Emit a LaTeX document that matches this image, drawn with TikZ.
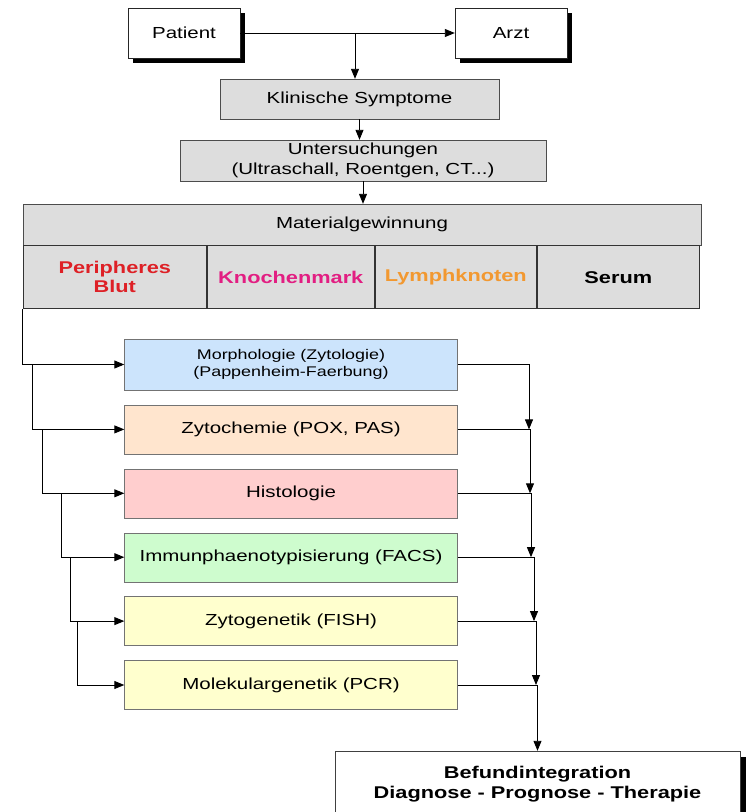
\documentclass[tikz,border=0pt]{standalone}
\usepackage{fontspec}
\setmainfont{Liberation Sans}[FakeStretch=1.28]
\usetikzlibrary{arrows.meta, positioning, shadows}

\definecolor{boxgray}{RGB}{221,221,221}
\definecolor{morphblue}{RGB}{204,228,252}
\definecolor{zytopeach}{RGB}{255,229,206}
\definecolor{histopink}{RGB}{255,206,206}
\definecolor{immungreen}{RGB}{206,252,206}
\definecolor{genyellow}{RGB}{255,255,206}
\definecolor{blutred}{RGB}{222,32,38}
\definecolor{markpink}{RGB}{226,30,130}
\definecolor{lymphorange}{RGB}{242,152,48}

\begin{document}
\begin{tikzpicture}[x=1pt, y=-1pt,
    font=\fontsize{16}{20}\selectfont,
    box/.style={rectangle, draw=black!85, fill=white, minimum width=112pt, minimum height=50pt, drop shadow={shadow xshift=5pt, shadow yshift=-5pt, fill=black, opacity=1}},
    graybox/.style={rectangle, draw=black!70, fill=boxgray, inner ysep=1pt, align=center},
    cell/.style={rectangle, draw=black!80, line width=1pt, fill=boxgray, minimum height=63pt, align=center, font=\fontsize{17}{19}\selectfont\bfseries},
    method/.style={rectangle, draw=black!55, minimum width=333pt, minimum height=49pt, align=center},
    result/.style={rectangle, draw=black!75, fill=white, minimum width=405pt, minimum height=66pt, align=center, font=\fontsize{17}{20}\selectfont\bfseries, drop shadow={shadow xshift=6pt, shadow yshift=-6pt, fill=black, opacity=1}},
    arrow/.style={-{Triangle[length=10pt, width=8pt]}, line width=0.9pt},
    node distance=14.5pt]

    \path[use as bounding box, clip] (0,0) rectangle (746,812);

    \node[box] (patient) at (184,33) {Patient};
    \node[box] (arzt) at (511,33) {Arzt};

    \node[graybox, minimum width=279pt, minimum height=40pt] (klin) at (359.5,99) {Klinische Symptome};
    \node[graybox, minimum width=366pt, minimum height=41pt] (unters) at (363,160.5) {Untersuchungen\\(Ultraschall, Roentgen, CT...)};
    \node[graybox, minimum width=678pt, minimum height=41pt] (material) at (362,224.5) {Materialgewinnung};

    \node[cell, minimum width=183pt, text=blutred, anchor=north west] (blut) at (material.south west) {Peripheres\\Blut};
    \node[cell, minimum width=167pt, text=markpink, right=0pt of blut] (mark) {Knochenmark};
    \node[cell, minimum width=161pt, text=lymphorange, right=0pt of mark] (lymph) {Lymphknoten};
    \node[cell, minimum width=162pt, right=0pt of lymph] (serum) {Serum};

    \node[method, fill=morphblue, minimum height=51pt, font=\fontsize{14}{17}\selectfont] (morph) at (291,364.5) {Morphologie (Zytologie)\\(Pappenheim-Faerbung)};
    \node[method, fill=zytopeach, below=of morph] (zyto) {Zytochemie (POX, PAS)};
    \node[method, fill=histopink, below=of zyto] (histo) {Histologie};
    \node[method, fill=immungreen, below=of histo] (immun) {Immunphaenotypisierung (FACS)};
    \node[method, fill=genyellow, below=of immun] (gen) {Zytogenetik (FISH)};
    \node[method, fill=genyellow, below=of gen] (mol) {Molekulargenetik (PCR)};

    \node[result] (befund) at (537.5,784) {Befundintegration\\Diagnose - Prognose - Therapie};

    \coordinate (split) at (355,33);
    \draw[arrow] (patient) -- (arzt);
    \draw[arrow] (split) -- (split |- klin.north);
    \draw[arrow] (klin.south) -- (klin.south |- unters.north);
    \draw[arrow] (unters.south) -- (unters.south |- material.north);

    \coordinate (t1) at (32,0);
    \coordinate (t2) at (42,0);
    \coordinate (t3) at (61,0);
    \coordinate (t4) at (70,0);
    \coordinate (t5) at (77,0);
    \draw[arrow] (blut.south west) |- (morph.west);
    \draw[arrow] (t1 |- morph.west) |- (zyto.west);
    \draw[arrow] (t2 |- zyto.west) |- (histo.west);
    \draw[arrow] (t3 |- histo.west) |- (immun.west);
    \draw[arrow] (t4 |- immun.west) |- (gen.west);
    \draw[arrow] (t5 |- gen.west) |- (mol.west);

    \coordinate (r1) at (529,0);
    \coordinate (r2) at (530,0);
    \coordinate (r3) at (531,0);
    \coordinate (r4) at (534,0);
    \coordinate (r5) at (536,0);
    \draw[arrow] (morph.east) -| (r1 |- zyto.east);
    \draw[arrow] (zyto.east) -| (r2 |- histo.east);
    \draw[arrow] (histo.east) -| (r3 |- immun.east);
    \draw[arrow] (immun.east) -| (r4 |- gen.east);
    \draw[arrow] (gen.east) -| (r5 |- mol.east);
    \draw[arrow] (mol.east) -| (befund.north);
\end{tikzpicture}
\end{document}
